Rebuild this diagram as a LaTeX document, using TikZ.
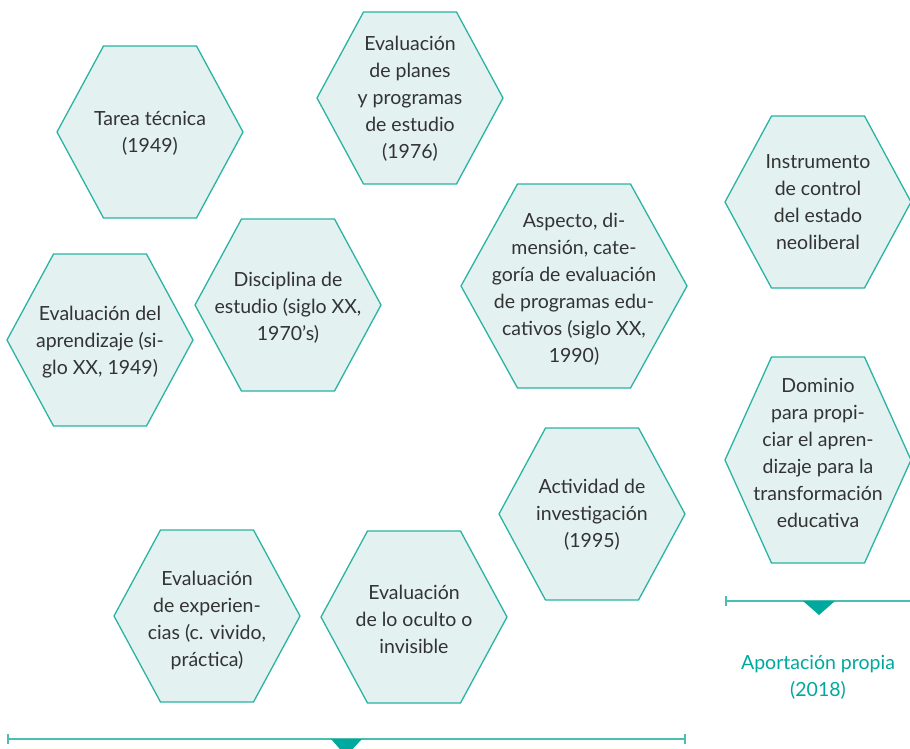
\documentclass[tikz,border=0pt]{standalone}
\usepackage{fontspec}
\setmainfont{Lato}
\definecolor{hexborde}{HTML}{2BB3A3}
\definecolor{hexfondo}{HTML}{E3F1F0}
\definecolor{verde}{HTML}{00A99D}
\definecolor{texto}{HTML}{333333}
\tikzset{
  hexa/.style={draw=hexborde, fill=hexfondo, line width=1.3pt, line join=miter},
  etiqueta/.style={align=center, text=texto, inner sep=0pt, font=\fontsize{19.5}{27}\selectfont},
  linea/.style={draw=hexborde!85, line width=1.6pt},
}
% hexagono: centro x, centro y, semiancho, semialto
\newcommand{\hexagono}[4]{%
  \draw[hexa] (#1-#3,#2) -- (#1-#3/2,#2-#4) -- (#1+#3/2,#2-#4) -- (#1+#3,#2)
    -- (#1+#3/2,#2+#4) -- (#1-#3/2,#2+#4) -- cycle;}
\begin{document}
\begin{tikzpicture}[x=1pt, y=-1pt]
  \useasboundingbox (0,0) rectangle (910,749);
  \def\w{93} % semiancho
  \def\h{86} % semialto
  \hexagono{150}{132}{\w}{\h} % tarea tecnica
  \hexagono{410}{98}{\w}{\h} % planes y programas
  \hexagono{818}{202}{\w}{\h} % instrumento
  \hexagono{288}{305}{\w}{\h} % disciplina
  \hexagono{100}{340}{\w}{\h} % aprendizaje
  \hexagono{574}{286}{113}{102} % aspecto
  \hexagono{818}{460}{\w}{103} % dominio
  \hexagono{592}{514}{\w}{\h} % investigacion
  \hexagono{207}{616}{\w}{\h} % experiencias
  \hexagono{414}{617}{\w}{\h} % oculto
  \node[etiqueta] (tarea) at (150,133) {Tarea técnica\\(1949)};
  \node[etiqueta] (planes) at (410,99) {Evaluación\\de planes\\y programas\\de estudio\\(1976)};
  \node[etiqueta] (instrumento) at (818,202) {Instrumento\\de control\\del estado\\neoliberal};
  \node[etiqueta] (disciplina) at (288,308) {Disciplina de\\estudio (siglo XX,\\1970's)};
  \node[etiqueta] (aprendizaje) at (100,342) {Evaluación del\\aprendizaje (si-\\glo XX, 1949)};
  \node[etiqueta] (aspecto) at (574,289) {Aspecto, di-\\mensión, cate-\\goría de evaluación\\de programas edu-\\cativos (siglo XX,\\1990)};
  \node[etiqueta] (dominio) at (818,453) {Dominio\\para propi-\\ciar el apren-\\dizaje para la\\transformación\\educativa};
  \node[etiqueta] (investigacion) at (592,515) {Actividad de\\investigación\\(1995)};
  \node[etiqueta] (experiencias) at (207,620) {Evaluación\\de experien-\\cias (c. vivido,\\práctica)};
  \node[etiqueta] (oculto) at (414,619) {Evaluación\\de lo oculto o\\invisible};
  \coordinate (ai) at (7,739); % linea inferior
  \coordinate (ad) at (686,739);
  \draw[linea, {|-|}] (ai) -- (ad);
  \fill[verde] (331,739) -- (362,739) -- (346,756) -- cycle; % triangulo
  \coordinate (bi) at (725,601); % linea derecha
  \coordinate (bd) at (910,601);
  \draw[linea, {|-}] (bi) -- (bd);
  \fill[verde] (803,601) -- (835,601) -- (819,615) -- cycle; % triangulo
  \node[etiqueta, text=verde] (aporte) at (818,677) {Aportación propia\\(2018)};
\end{tikzpicture}
\end{document}
